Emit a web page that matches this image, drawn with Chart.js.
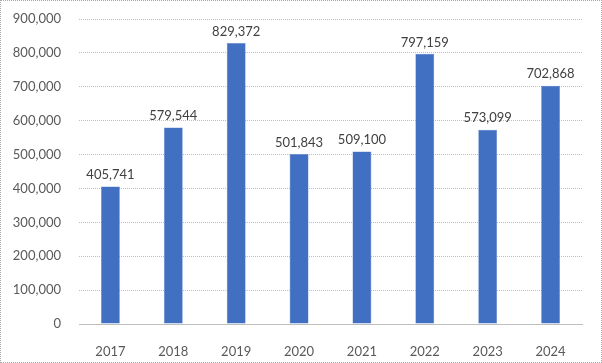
<!DOCTYPE html>
<html>
<head>
<meta charset="utf-8">
<script src="https://cdn.jsdelivr.net/npm/chart.js@4/dist/chart.umd.min.js"></script>
<style>
  html, body { margin: 0; padding: 0; background: #fff; }
  #wrap { position: relative; width: 600px; height: 361px; border: 1px dotted #a6a6a6; }
</style>
</head>
<body>
<div id="wrap"><canvas id="chart" width="600" height="361"></canvas></div>
<script>
// values
const years = ["2017", "2018", "2019", "2020", "2021", "2022", "2023", "2024"];
const totals = [405741, 579544, 829372, 501843, 509100, 797159, 573099, 702868];

const fmt = v => v.toLocaleString("en-US");

// numbers above each bar
const barLabels = {
    id: "barLabels",
    afterDatasetsDraw(chart) {
        const ctx = chart.ctx;
        const meta = chart.getDatasetMeta(0);
        ctx.save();
        ctx.font = "13px Lato";
        ctx.fillStyle = "#404040";
        ctx.textAlign = "center";
        ctx.textBaseline = "bottom";
        meta.data.forEach((bar, i) => {
            ctx.fillText(fmt(totals[i]), bar.x, bar.y - 5);
        });
        ctx.restore();
    }
};

const ctx = document.getElementById("chart").getContext("2d");
new Chart(ctx, {
    type: "bar",
    data: {
        labels: years,
        datasets: [{
            data: totals,
            backgroundColor: "#4170C2",
            borderColor: "#5B86D1",
            borderWidth: 0.5,
            categoryPercentage: 1,
            barPercentage: 0.3
        }]
    },
    options: {
        responsive: false,
        animation: false,
        layout: { padding: { top: 18, right: 19, left: 0, bottom: 0 } },
        plugins: { legend: { display: false }, tooltip: { enabled: false } },
        scales: {
            y: {
                min: 0,
                max: 900000,
                afterFit(scale) {
                    scale.width = 78;
                    scale.paddingTop = 0;
                    scale.paddingBottom = 0;
                },
                ticks: {
                    stepSize: 100000,
                    padding: 18,
                    color: "#595959",
                    font: { family: "Lato", size: 13 },
                    callback: v => fmt(v)
                },
                grid: { color: "#BFBFBF", drawTicks: false },
                border: { display: false, dash: [1, 1] }
            },
            x: {
                afterFit(scale) { scale.height = 38; },
                ticks: {
                    padding: 12,
                    color: "#595959",
                    font: { family: "Lato", size: 13 }
                },
                grid: { display: false },
                border: { color: "#BFBFBF", dash: [1, 1] }
            }
        }
    },
    plugins: [barLabels]
});
</script>
</body>
</html>
